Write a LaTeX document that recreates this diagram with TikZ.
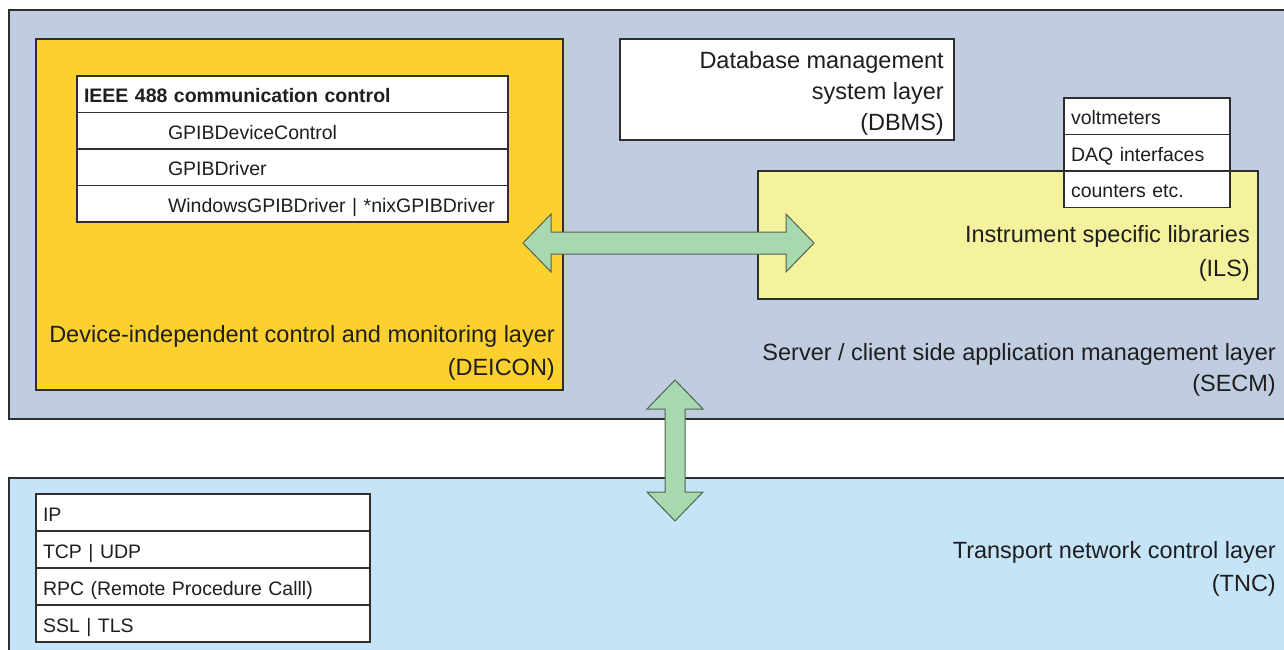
\documentclass[tikz,border=0pt]{standalone}
\usepackage{fontspec}
\usetikzlibrary{calc}
\setmainfont{Liberation Sans}
\definecolor{secmfill}{HTML}{C0CCE0}
\definecolor{deiconfill}{HTML}{FCD12F}
\definecolor{ilsfill}{HTML}{F5F29E}
\definecolor{tncfill}{HTML}{C6E4F8}
\definecolor{arrowfill}{HTML}{A7D8AE}
\definecolor{arrowline}{HTML}{4F6452}
\definecolor{linegray}{HTML}{2E2E2E}
\definecolor{textgray}{HTML}{1E1E1E}
\newcommand\layerfont{\fontsize{23.5}{33}\selectfont}
\newcommand\cellfont{\fontsize{19.5}{23}\selectfont}
\begin{document}
\begin{tikzpicture}[x=1pt,y=-1pt,
  layer/.style={draw=linegray, line width=2pt, anchor=north west, inner sep=0pt, outer sep=0pt},
  cell/.style={draw=linegray, line width=1.4pt, fill=white, anchor=north west,
    inner xsep=7pt, inner ysep=0pt, outer sep=0pt, text width=#1-14pt, minimum height=36.5pt,
    align=left, text height=18.5pt, text depth=1.5pt, font=\cellfont, text=textgray},
  caption/.style={anchor=north east, inner sep=0pt, align=right, font=\layerfont, text=textgray},
  bigarrow/.style={fill=arrowfill, draw=arrowline, line width=1pt, line join=miter}
]
\useasboundingbox (0,0) rectangle (1284,650);
\clip (0,0) rectangle (1284,650);

% the two main layers
\node (secm) [layer, fill=secmfill, minimum width=1300pt, minimum height=409pt] at (9,10) {};
\node (tnc)  [layer, fill=tncfill,  minimum width=1300pt, minimum height=240pt] at (9,478) {};

% device-independent control layer with its IEEE 488 stack
\node (deicon) [layer, fill=deiconfill, minimum width=527pt, minimum height=351pt] at (36,39) {};
\node (ieee) [cell=431pt] at (77,76) {\textbf{IEEE 488 communication control}};
\node (gpibdc) [cell=431pt] at (ieee.south west) {\hspace*{84pt}GPIBDeviceControl};
\node (gpibdrv) [cell=431pt] at (gpibdc.south west) {\hspace*{84pt}GPIBDriver};
\node (osdrv) [cell=431pt] at (gpibdrv.south west) {\hspace*{84pt}WindowsGPIBDriver | *nixGPIBDriver};
\node (deiconlbl) [caption] at (555,325) {Device-independent control and monitoring layer\\(DEICON)};

% database layer
\node (dbms) [layer, fill=white, minimum width=334pt, minimum height=101pt] at (620,39) {};
\node (dbmslbl) [caption, font=\fontsize{23.5}{31}\selectfont] at (944,51) {Database management\\system layer\\(DBMS)};

% instrument specific libraries
\node (ils) [layer, fill=ilsfill, minimum width=500pt, minimum height=128pt] at (758,171) {};
\node (volt) [cell=166pt] at (1064,98) {voltmeters};
\node (daq) [cell=166pt] at (volt.south west) {DAQ interfaces};
\node (cnt) [cell=166pt] at (daq.south west) {counters etc.};
\node (ilslbl) [caption, font=\fontsize{23.5}{34}\selectfont] at (1250,225) {Instrument specific libraries\\(ILS)};

\node (secmlbl) [caption, font=\fontsize{23.5}{31}\selectfont] at (1276,343) {Server / client side application management layer\\(SECM)};

% transport network stack
\node (ip) [cell=334pt, minimum height=37pt] at (36,494) {IP};
\node (tcp) [cell=334pt, minimum height=37pt] at (ip.south west) {TCP | UDP};
\node (rpc) [cell=334pt, minimum height=37pt] at (tcp.south west) {RPC (Remote Procedure Calll)};
\node (ssl) [cell=334pt, minimum height=37pt] at (rpc.south west) {SSL | TLS};
\node (tnclbl) [caption, font=\fontsize{23.5}{33}\selectfont] at (1276,541) {Transport network control layer\\(TNC)};

% double-headed arrows between layers
\coordinate (hl) at (523,243);
\coordinate (hr) at (814,243);
\draw[bigarrow] (hl) -- ++(28,-29) -- ++(0,18) -- ($(hr)+(-28,-11)$) -- ++(0,-18)
  -- (hr) -- ++(-28,29) -- ++(0,-18) -- ($(hl)+(28,11)$) -- ++(0,18) -- cycle;
\coordinate (vt) at (675,380);
\coordinate (vb) at (675,521);
\draw[bigarrow] (vt) -- ++(28,29) -- ++(-18,0) -- ($(vb)+(10,-29)$) -- ++(18,0)
  -- (vb) -- ++(-28,-29) -- ++(18,0) -- ($(vt)+(-10,29)$) -- ++(-18,0) -- cycle;
\end{tikzpicture}
\end{document}
